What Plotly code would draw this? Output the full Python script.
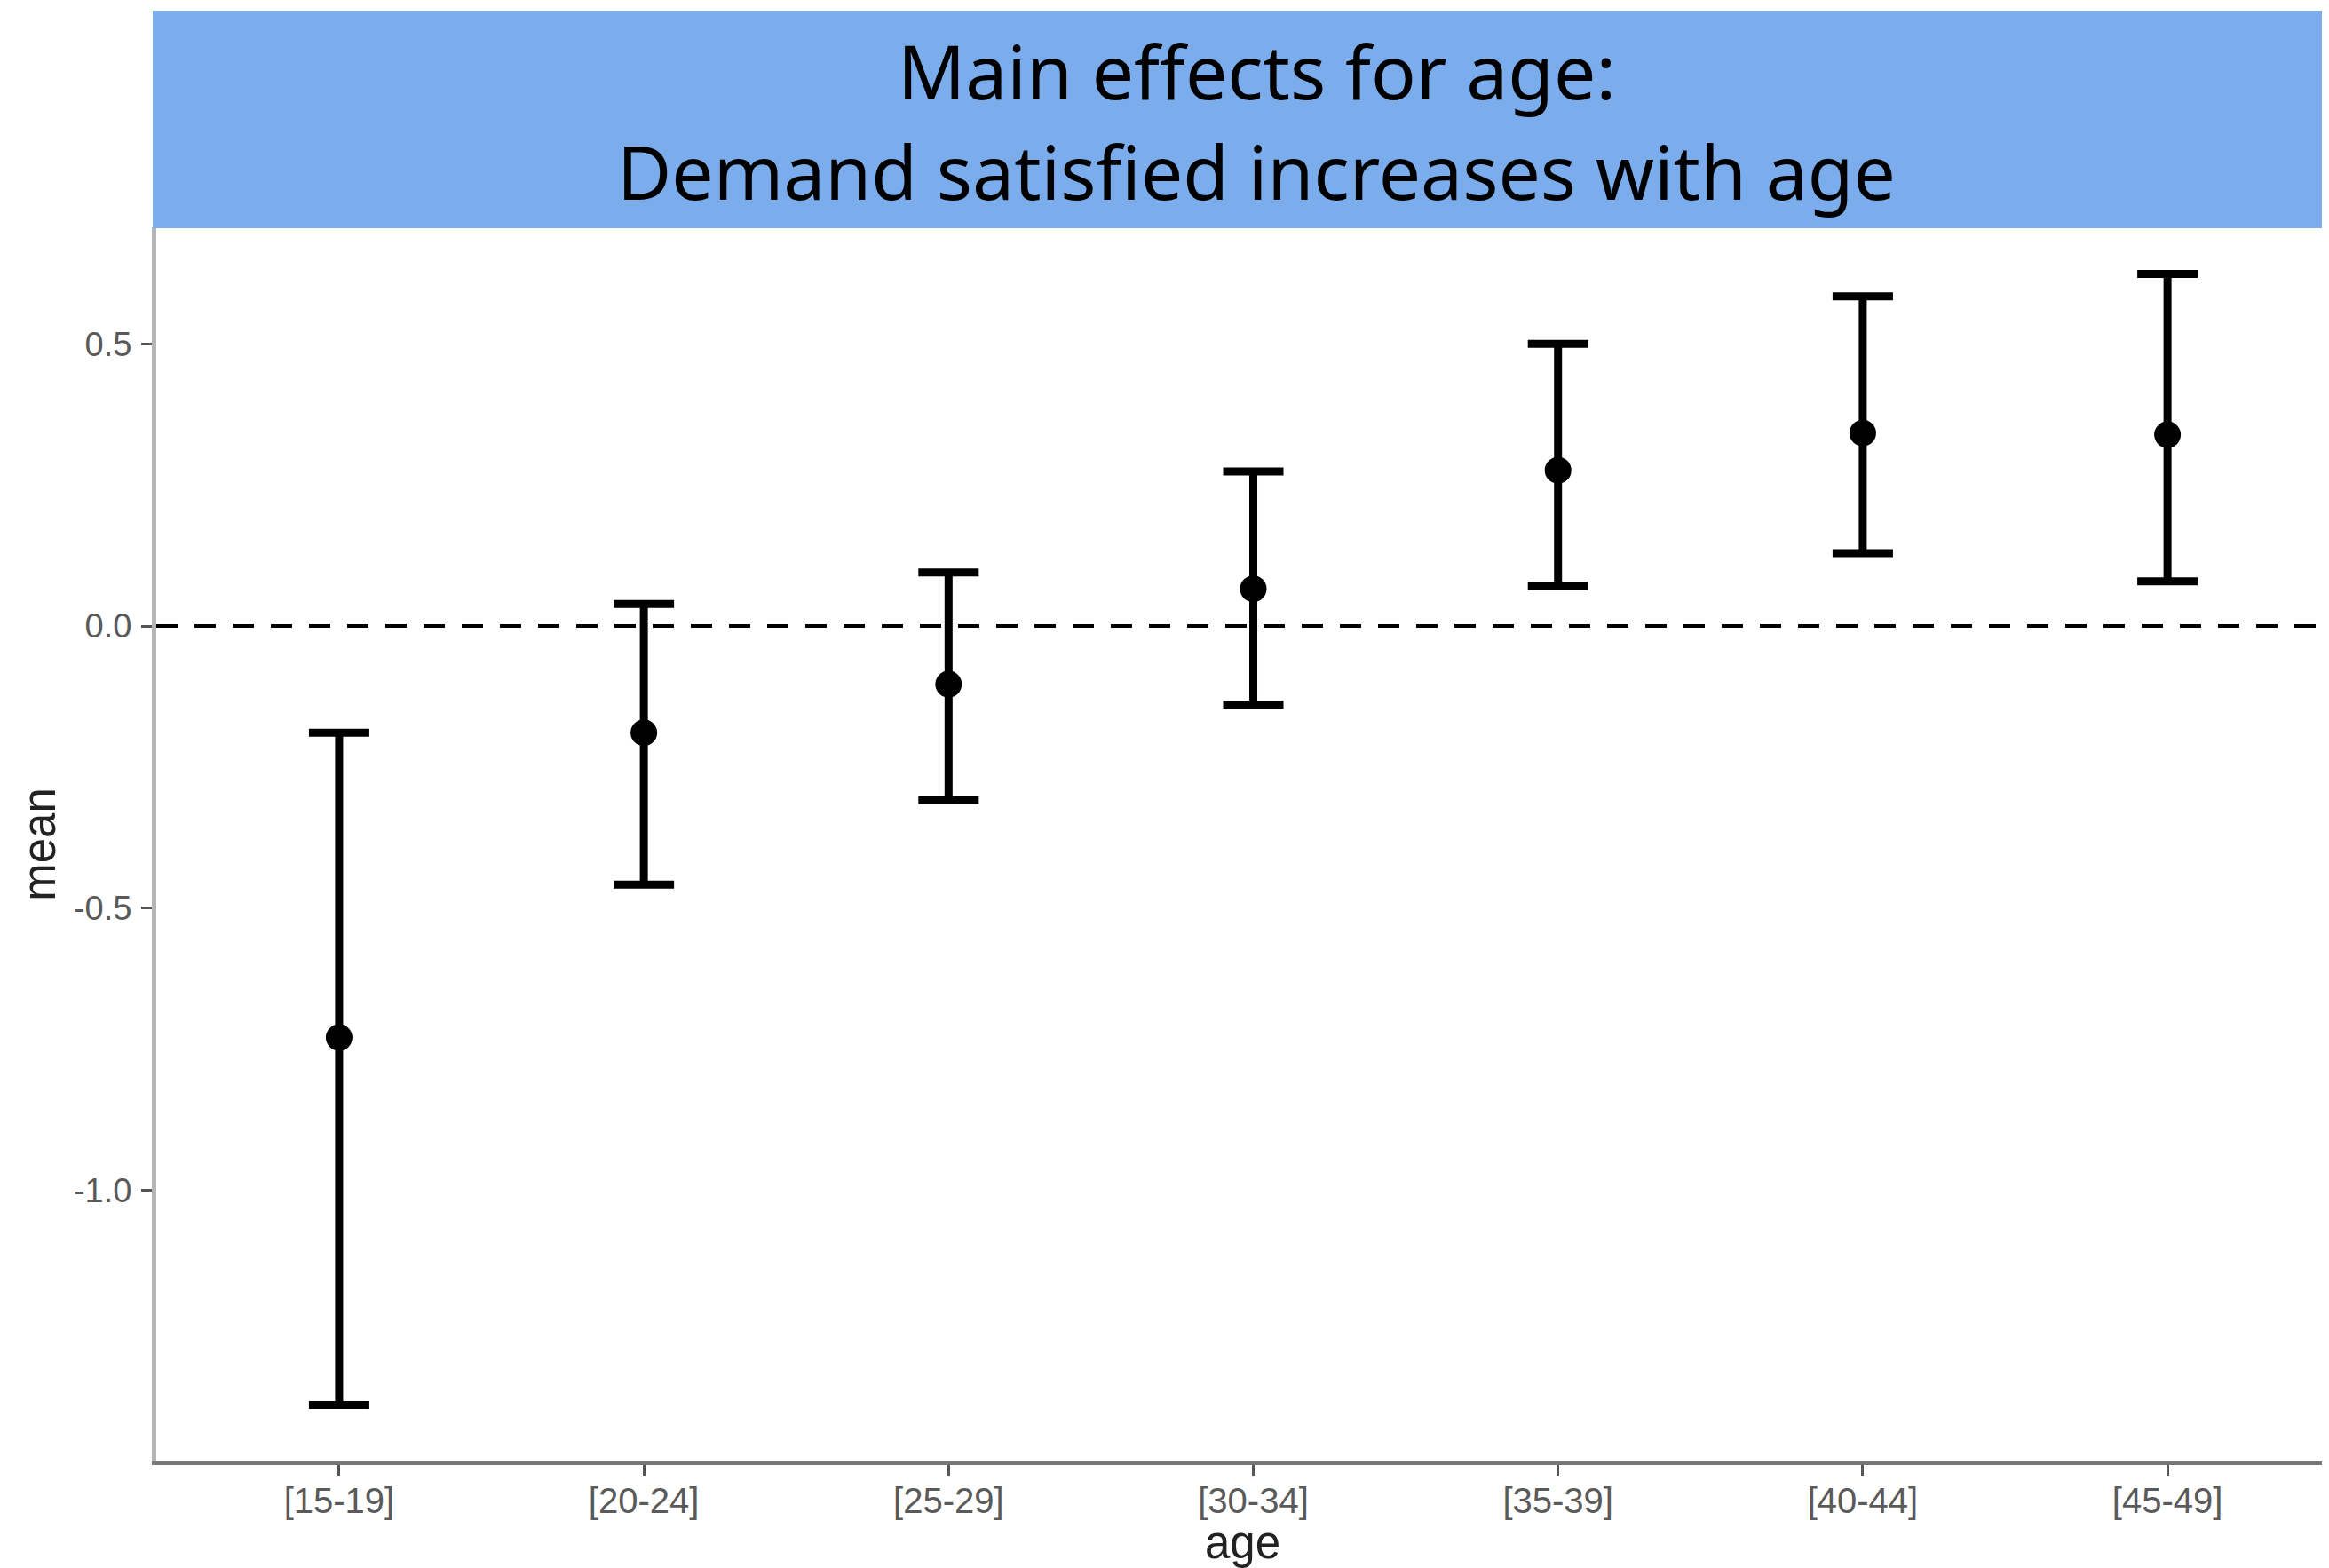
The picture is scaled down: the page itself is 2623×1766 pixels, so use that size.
import plotly.graph_objects as go

categories = ["[15-19]", "[20-24]", "[25-29]", "[30-34]", "[35-39]", "[40-44]", "[45-49]"]
means = [-0.729, -0.189, -0.103, 0.066, 0.276, 0.342, 0.339]
upper = [-0.189, 0.039, 0.095, 0.274, 0.500, 0.584, 0.624]
lower = [-1.380, -0.458, -0.308, -0.139, 0.071, 0.129, 0.079]
y_ticks = [-1.0, -0.5, 0.0, 0.5]
y_tick_labels = ["-1.0", "-0.5", "0.0", "0.5"]

OFF = 8  # browser body margin
W, H = 2623 - OFF, 1766 - OFF
L, R, T, B = 176 - OFF, 0, 256 - OFF, 120
pw = W - L - R
ph = H - T - B

xs = list(range(len(categories)))
err_plus = [u - m for u, m in zip(upper, means)]
err_minus = [m - l for m, l in zip(means, lower)]

fig = go.Figure()
fig.add_trace(go.Scatter(
    x=xs, y=means, mode="markers",
    marker=dict(color="black", size=30),
    error_y=dict(type="data", symmetric=False, array=err_plus, arrayminus=err_minus,
                 color="black", thickness=9, width=34),
    showlegend=False,
))

fig.add_shape(type="line", xref="paper", yref="y", x0=0, x1=1, y0=0, y1=0,
              line=dict(color="black", width=4, dash="24px,19px"), layer="below")

def px_to_paper_x(px):
    return (px - OFF - L) / pw

def px_to_paper_y(py):
    return (H - B - (py - OFF)) / ph

fig.add_shape(type="rect", xref="paper", yref="paper",
              x0=px_to_paper_x(172), x1=1.0, y0=px_to_paper_y(257), y1=px_to_paper_y(12),
              fillcolor="#7BACEC", line=dict(width=0), layer="above")

title_font = dict(family="Noto Sans", size=84, color="black")
fig.add_annotation(text="Main effects for age:", xref="paper", yref="paper",
                   x=px_to_paper_x(1415), y=px_to_paper_y(80), xanchor="center", yanchor="middle",
                   showarrow=False, font=title_font)
fig.add_annotation(text="Demand satisfied increases with age", xref="paper", yref="paper",
                   x=px_to_paper_x(1415), y=px_to_paper_y(192), xanchor="center", yanchor="middle",
                   showarrow=False, font=title_font)

fig.update_layout(
    width=W, height=H,
    margin=dict(l=L, r=R, t=T, b=B, pad=0, autoexpand=False),
    paper_bgcolor="white", plot_bgcolor="white",
    font=dict(family="Liberation Sans", color="#4D4D4D"),
)
fig.update_xaxes(
    range=[-0.6, 6.53], tickmode="array", tickvals=xs, ticktext=categories,
    showgrid=False, zeroline=False, showline=True, linecolor="#777777", linewidth=4,
    ticks="outside", ticklen=12, tickwidth=3, tickcolor="#555555",
    tickfont=dict(size=40, color="#5a5a5a"), ticklabelstandoff=-6, automargin=False,
    title=dict(text="age", font=dict(size=51, color="#222222"), standoff=35),
)
fig.update_yaxes(
    range=[-1.48, 0.7064], tickmode="array", tickvals=y_ticks, ticktext=y_tick_labels,
    showgrid=False, zeroline=False, showline=True, linecolor="#b5b5b5", linewidth=5,
    ticks="outside", ticklen=12, tickwidth=3, tickcolor="#555555",
    tickfont=dict(size=38, color="#5a5a5a"), ticklabelstandoff=3, automargin=False,
    title=dict(text="mean", font=dict(size=51, color="#222222"), standoff=6),
)

fig.write_html("out.html")
